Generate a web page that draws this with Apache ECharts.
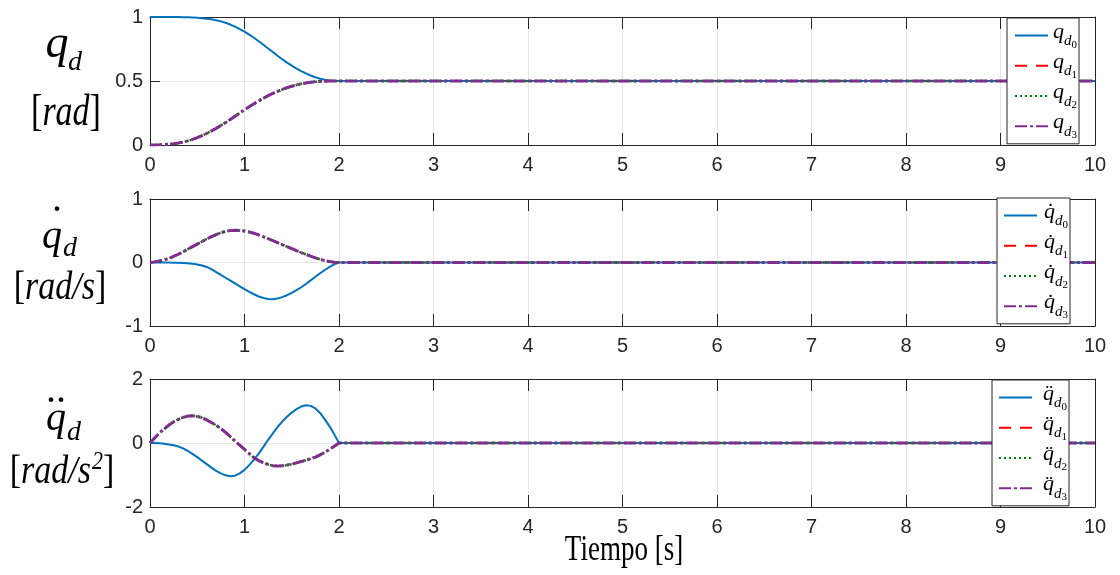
<!DOCTYPE html>
<html><head><meta charset="utf-8">
<script src="https://cdn.jsdelivr.net/npm/echarts@6/dist/echarts.min.js"></script>
<style>html,body{margin:0;padding:0;background:#fff}#c{width:1120px;height:575px}</style>
</head><body><div id="c"></div>
<script>
// ---- data ----
const time = [0,0.05,0.1,0.15,0.2,0.25,0.3,0.35,0.4,0.45,0.5,0.55,0.6,0.65,0.7,0.75,0.8,0.85,0.9,0.95,
  1.0,1.05,1.1,1.15,1.2,1.25,1.3,1.35,1.4,1.45,1.5,1.55,1.6,1.65,1.7,1.75,1.8,1.85,1.9,1.95,2.0,10];
// positions
const pos0 = [1,1,1,1,1,0.9998,0.9995,0.999,0.998,0.996,0.994,0.991,0.987,0.982,0.975,0.966,0.955,0.941,0.925,0.906,
  0.885,0.862,0.838,0.811,0.783,0.754,0.726,0.697,0.67,0.644,0.62,0.597,0.577,0.559,0.543,0.529,0.518,0.51,0.504,0.501,0.5,0.5];
const pos1 = [0,0.0003,0.001,0.003,0.006,0.01,0.015,0.023,0.032,0.044,0.057,0.073,0.09,0.11,0.13,0.153,0.176,0.2,0.225,0.25,
  0.275,0.299,0.322,0.344,0.365,0.385,0.403,0.419,0.434,0.447,0.459,0.469,0.478,0.485,0.49,0.494,0.497,0.499,0.5,0.5,0.5,0.5];
const pos2 = pos1.slice();
const pos3 = pos1.slice();
// velocities
const vel0 = [0,0,0,-0.0005,-0.001,-0.002,-0.003,-0.006,-0.01,-0.018,-0.03,-0.047,-0.07,-0.105,-0.15,-0.195,-0.24,-0.285,-0.33,-0.375,
  -0.42,-0.462,-0.5,-0.535,-0.56,-0.576,-0.578,-0.568,-0.545,-0.515,-0.478,-0.435,-0.39,-0.338,-0.282,-0.225,-0.17,-0.118,-0.07,-0.03,0,0];
const vel1 = [0,0.01,0.025,0.043,0.065,0.095,0.13,0.168,0.21,0.25,0.29,0.33,0.37,0.407,0.44,0.468,0.49,0.502,0.506,0.503,
  0.495,0.48,0.46,0.434,0.405,0.375,0.345,0.313,0.28,0.25,0.22,0.187,0.155,0.126,0.1,0.073,0.05,0.03,0.015,0.005,0,0];
const vel2 = vel1.slice();
const vel3 = vel1.slice();
// accelerations
const acc0 = [0,-0.002,-0.01,-0.025,-0.045,-0.072,-0.11,-0.17,-0.25,-0.34,-0.44,-0.55,-0.66,-0.77,-0.87,-0.95,-1.01,-1.04,-1.02,-0.95,
  -0.84,-0.69,-0.52,-0.33,-0.12,0.1,0.3,0.5,0.67,0.82,0.95,1.06,1.14,1.18,1.16,1.08,0.94,0.74,0.52,0.27,0,0];
const acc1 = [0,0.16,0.31,0.44,0.56,0.66,0.74,0.8,0.84,0.85,0.83,0.79,0.72,0.64,0.55,0.45,0.33,0.2,0.06,-0.07,
  -0.2,-0.33,-0.46,-0.55,-0.62,-0.67,-0.71,-0.72,-0.71,-0.69,-0.66,-0.62,-0.58,-0.54,-0.49,-0.44,-0.37,-0.29,-0.2,-0.1,0,0];
const acc2 = acc1.slice();
const acc3 = acc1.slice();
// axis ticks
const xTicks = [0,1,2,3,4,5,6,7,8,9,10];
const posTicks = [0,0.5,1];
const velTicks = [-1,0,1];
const accTicks = [-2,0,2];

const colors = ['#0072BD','#FF0000','#008000','#7E2F8E'];
const lineTypes = ['solid',[12,9],[2,3],[12,3,3,3]];
const lineWidths = [2,2,2.5,3];

const panels = [
  {ticks:posTicks, data:[pos0,pos1,pos2,pos3], names:['p0','p1','p2','p3'], top:17, height:128},
  {ticks:velTicks, data:[vel0,vel1,vel2,vel3], names:['v0','v1','v2','v3'], top:199, height:127},
  {ticks:accTicks, data:[acc0,acc1,acc2,acc3], names:['a0','a1','a2','a3'], top:379, height:128}
];

const AX = '#262626';
const grid=[], xAxis=[], yAxis=[], series=[];
panels.forEach((p,i)=>{
  grid.push({left:150, width:945, top:p.top, height:p.height, containLabel:false});
  const ymin = p.ticks[0], ymax = p.ticks[p.ticks.length-1], yint = p.ticks[1]-p.ticks[0];
  xAxis.push({gridIndex:i, type:'value', min:xTicks[0], max:xTicks[xTicks.length-1], interval:1, position:'bottom',
    axisLine:{show:true,onZero:false,lineStyle:{color:AX,width:1}},
    axisTick:{show:true,inside:true,length:12,lineStyle:{color:AX}},
    axisLabel:{show:true,fontSize:20,color:AX,margin:10,fontFamily:'Liberation Sans'},
    splitLine:{show:true,lineStyle:{color:'#e6e6e6',width:1}}});
  xAxis.push({gridIndex:i, type:'value', min:xTicks[0], max:xTicks[xTicks.length-1], interval:1, position:'top',
    axisLine:{show:true,onZero:false,lineStyle:{color:AX,width:1}},
    axisTick:{show:true,inside:true,length:12,lineStyle:{color:AX}},
    axisLabel:{show:false}, splitLine:{show:false}});
  yAxis.push({gridIndex:i, type:'value', min:ymin, max:ymax, interval:yint, position:'left',
    axisLine:{show:true,onZero:false,lineStyle:{color:AX,width:1}},
    axisTick:{show:true,inside:true,length:10,lineStyle:{color:AX}},
    axisLabel:{show:true,fontSize:20,color:AX,margin:7,fontFamily:'Liberation Sans'},
    splitLine:{show:true,lineStyle:{color:'#e6e6e6',width:1}}});
  yAxis.push({gridIndex:i, type:'value', min:ymin, max:ymax, interval:yint, position:'right',
    axisLine:{show:true,onZero:false,lineStyle:{color:AX,width:1}},
    axisTick:{show:true,inside:true,length:10,lineStyle:{color:AX}},
    axisLabel:{show:false}, splitLine:{show:false}});
  p.data.forEach((arr,k)=>{
    series.push({name:p.names[k], type:'line', xAxisIndex:2*i, yAxisIndex:2*i, symbol:'none',
      smooth:false, clip:true, color:colors[k],
      lineStyle:{color:colors[k], width:lineWidths[k], type:lineTypes[k]},
      data: time.map((t,j)=>[t, arr[j]])});
  });
});

function legendRich(extraLeft){
  const f='Liberation Serif';
  return {
    q:{fontFamily:f, fontStyle:'italic', fontSize:22, color:'#000', verticalAlign:'top', padding:[0,0,0,extraLeft]},
    d:{fontFamily:f, fontStyle:'italic', fontSize:15, color:'#000', verticalAlign:'top', padding:[12.8,0,0,0]},
    n:{fontFamily:f, fontSize:11, color:'#000', verticalAlign:'top', padding:[18.2,0,0,0]}
  };
}
const accent = {p:'q', v:'q\u0307', a:'q\u0308'};
function legendFmt(name){ return '{q|'+accent[name[0]]+'}{d|d}{n|'+name[1]+'}'; }
const legendBoxes = [
  {left:1007, top:18, padL:7, padR:2, w:24, extra:0},
  {left:997, top:198, padL:6, padR:2, w:34, extra:2},
  {left:992, top:380, padL:6, padR:2, w:42, extra:6}
];
const legend = panels.map((p,i)=>{
  const b = legendBoxes[i];
  return {data:p.names, left:b.left, top:b.top, orient:'vertical', selectedMode:false,
    padding:[3,b.padR,3,b.padL], itemGap:1, itemWidth:33, itemHeight:14,
    itemStyle:{opacity:0, borderWidth:0}, lineStyle:{opacity:1},
    backgroundColor:'#fff', borderColor:AX, borderWidth:1, borderRadius:0,
    formatter:legendFmt, textStyle:{width:b.w, rich:legendRich(b.extra)}};
});

const SERIF='Liberation Serif';
function txt(text,x,y,size,italic,extra){
  return Object.assign({type:'text', x:x, y:y, z:100, style:Object.assign({text:text, fontFamily:SERIF, fontSize:size,
    fontStyle: italic?'italic':'normal', fill:'#000', align:'center', verticalAlign:'middle'}, (extra&&extra.style)||{})},
    (extra&&extra.el)||{});
}
function unitRich(){
  return {b:{fontFamily:SERIF,fontSize:34,verticalAlign:'bottom'},
          i:{fontFamily:SERIF,fontSize:34,fontStyle:'italic',verticalAlign:'bottom'},
          s:{fontFamily:SERIF,fontSize:22,fontStyle:'italic',verticalAlign:'bottom',padding:[0,0,15,1]}};
}
const graphic = [
  // panel 1
  txt('q',57,44.5,46,true),
  txt('d',68,62.5,28,true,{style:{align:'left'}}),
  txt('{b|[}{i|rad}{b|]}',66,113,34,false,{style:{rich:unitRich()},el:{scaleY:1.3}}),
  // panel 2
  txt('.',57,200.5,40,false),
  txt('q',52,237.5,40,true),
  txt('d',63,248.5,28,true,{style:{align:'left'}}),
  txt('{b|[}{i|rad/s}{b|]}',60,288.5,34,false,{style:{rich:unitRich()},el:{scaleY:1.15}}),
  // panel 3
  txt('.',51,391.5,40,false),
  txt('.',61,391.5,40,false),
  txt('q',56,419.5,40,true),
  txt('d',67,432.5,28,true,{style:{align:'left'}}),
  txt('{b|[}{i|rad/s}{s|2}{b|]}',62,471.3,34,false,{style:{rich:unitRich()},el:{scaleY:1.15}}),
  // x label
  txt('Tiempo [s]',624,550.7,27,false,{el:{scaleY:1.35}})
];

const chart = echarts.init(document.getElementById('c'));
chart.setOption({animation:false, backgroundColor:'#fff', grid, xAxis, yAxis, series, legend, graphic});
</script></body></html>
